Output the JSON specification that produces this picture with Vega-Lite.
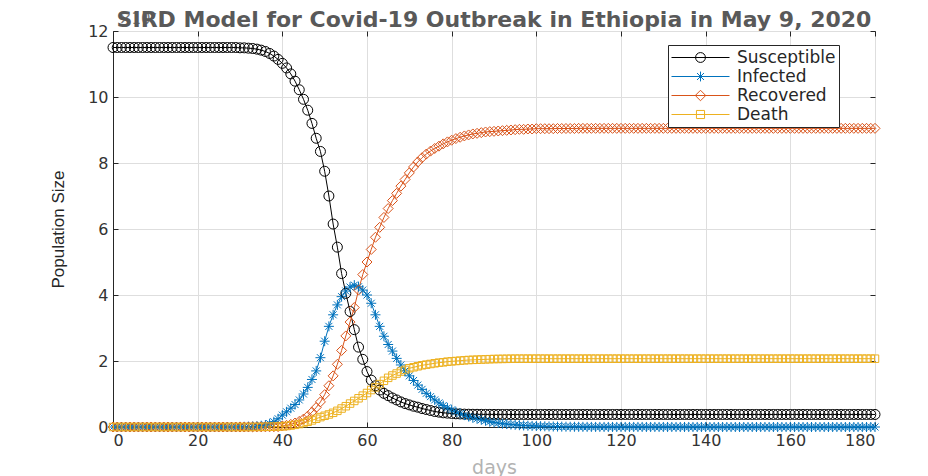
{
  "$schema": "https://vega.github.io/schema/vega-lite/v6.json",
  "autosize": "none",
  "width": 762,
  "height": 396,
  "padding": {"left": 113, "top": 31, "right": 53, "bottom": 49},
  "background": "white",
  "title": {"text": "SIRD Model for Covid-19 Outbreak in Ethiopia in May 9, 2020", "font": "DejaVu Sans", "fontSize": 22, "fontWeight": "bold", "color": "#595959", "anchor": "middle", "offset": 4, "dy": 24},
  "config": {
    "view": {"stroke": "#262626", "strokeWidth": 1},
    "axis": {"gridColor": "#dedede", "gridWidth": 1, "domainColor": "#262626", "tickColor": "#262626", "tickSize": -5, "labelFont": "DejaVu Sans", "labelFontSize": 16, "labelColor": "#333333", "titleFontWeight": "normal"}
  },
  "datasets": {
    "sird": [
      {"d":0,"S":11.5,"I":0,"R":0,"D":0},{"d":1,"S":11.5,"I":0,"R":0,"D":0},{"d":2,"S":11.5,"I":0,"R":0,"D":0},{"d":3,"S":11.5,"I":0,"R":0,"D":0},{"d":4,"S":11.5,"I":0,"R":0,"D":0},
      {"d":5,"S":11.5,"I":0,"R":0,"D":0},{"d":6,"S":11.5,"I":0,"R":0,"D":0},{"d":7,"S":11.5,"I":0,"R":0,"D":0},{"d":8,"S":11.5,"I":0,"R":0,"D":0},{"d":9,"S":11.5,"I":0,"R":0,"D":0},
      {"d":10,"S":11.5,"I":0,"R":0,"D":0},{"d":11,"S":11.5,"I":0,"R":0,"D":0},{"d":12,"S":11.5,"I":0,"R":0,"D":0},{"d":13,"S":11.5,"I":0,"R":0,"D":0},{"d":14,"S":11.5,"I":0,"R":0,"D":0},
      {"d":15,"S":11.5,"I":0,"R":0,"D":0},{"d":16,"S":11.5,"I":0,"R":0,"D":0},{"d":17,"S":11.5,"I":0,"R":0,"D":0},{"d":18,"S":11.5,"I":0,"R":0,"D":0},{"d":19,"S":11.5,"I":0,"R":0,"D":0},
      {"d":20,"S":11.5,"I":0,"R":0,"D":0},{"d":21,"S":11.5,"I":0,"R":0,"D":0},{"d":22,"S":11.5,"I":0,"R":0,"D":0},{"d":23,"S":11.5,"I":0,"R":0,"D":0},{"d":24,"S":11.5,"I":0,"R":0,"D":0},
      {"d":25,"S":11.5,"I":0,"R":0,"D":0},{"d":26,"S":11.5,"I":0,"R":0,"D":0},{"d":27,"S":11.5,"I":0,"R":0,"D":0},{"d":28,"S":11.5,"I":0,"R":0,"D":0},{"d":29,"S":11.5,"I":0,"R":0,"D":0},
      {"d":30,"S":11.49,"I":0.005,"R":0,"D":0},{"d":31,"S":11.49,"I":0.008,"R":0,"D":0},{"d":32,"S":11.48,"I":0.012,"R":0.002,"D":0},{"d":33,"S":11.47,"I":0.018,"R":0.003,"D":0.001},{"d":34,"S":11.45,"I":0.027,"R":0.004,"D":0.002},
      {"d":35,"S":11.42,"I":0.04,"R":0.005,"D":0.003},{"d":36,"S":11.38,"I":0.06,"R":0.006,"D":0.005},{"d":37,"S":11.32,"I":0.1,"R":0.007,"D":0.008},{"d":38,"S":11.24,"I":0.16,"R":0.008,"D":0.011},{"d":39,"S":11.14,"I":0.25,"R":0.01,"D":0.015},
      {"d":40,"S":11.02,"I":0.36,"R":0.03,"D":0.02},{"d":41,"S":10.88,"I":0.46,"R":0.05,"D":0.03},{"d":42,"S":10.7,"I":0.57,"R":0.08,"D":0.045},{"d":43,"S":10.48,"I":0.68,"R":0.12,"D":0.065},{"d":44,"S":10.22,"I":0.82,"R":0.17,"D":0.09},
      {"d":45,"S":9.93,"I":1.0,"R":0.24,"D":0.12},{"d":46,"S":9.6,"I":1.2,"R":0.33,"D":0.16},{"d":47,"S":9.2,"I":1.44,"R":0.45,"D":0.2},{"d":48,"S":8.75,"I":1.7,"R":0.59,"D":0.25},{"d":49,"S":8.35,"I":2.1,"R":0.76,"D":0.3},
      {"d":50,"S":7.75,"I":2.6,"R":0.98,"D":0.34},{"d":51,"S":7.0,"I":3.05,"R":1.25,"D":0.38},{"d":52,"S":6.15,"I":3.4,"R":1.55,"D":0.43},{"d":53,"S":5.45,"I":3.7,"R":1.9,"D":0.49},{"d":54,"S":4.65,"I":3.95,"R":2.32,"D":0.56},
      {"d":55,"S":4.05,"I":4.12,"R":2.76,"D":0.63},{"d":56,"S":3.5,"I":4.24,"R":3.18,"D":0.71},{"d":57,"S":2.95,"I":4.3,"R":3.62,"D":0.79},{"d":58,"S":2.42,"I":4.25,"R":4.15,"D":0.87},{"d":59,"S":2.05,"I":4.15,"R":4.62,"D":0.95},
      {"d":60,"S":1.68,"I":4.0,"R":5.0,"D":1.03},{"d":61,"S":1.42,"I":3.75,"R":5.38,"D":1.12},{"d":62,"S":1.25,"I":3.4,"R":5.75,"D":1.2},{"d":63,"S":1.12,"I":3.05,"R":6.05,"D":1.3},{"d":64,"S":1.02,"I":2.75,"R":6.35,"D":1.4},
      {"d":65,"S":0.95,"I":2.5,"R":6.62,"D":1.49},{"d":66,"S":0.88,"I":2.3,"R":6.86,"D":1.56},{"d":67,"S":0.82,"I":2.08,"R":7.08,"D":1.62},{"d":68,"S":0.76,"I":1.88,"R":7.3,"D":1.68},{"d":69,"S":0.71,"I":1.7,"R":7.5,"D":1.73},
      {"d":70,"S":0.67,"I":1.55,"R":7.7,"D":1.78},{"d":71,"S":0.63,"I":1.41,"R":7.88,"D":1.81},{"d":72,"S":0.6,"I":1.27,"R":8.03,"D":1.84},{"d":73,"S":0.56,"I":1.14,"R":8.16,"D":1.87},{"d":74,"S":0.53,"I":1.02,"R":8.27,"D":1.89},
      {"d":75,"S":0.5,"I":0.92,"R":8.36,"D":1.91},{"d":76,"S":0.47,"I":0.82,"R":8.44,"D":1.93},{"d":77,"S":0.45,"I":0.73,"R":8.51,"D":1.95},{"d":78,"S":0.43,"I":0.65,"R":8.58,"D":1.96},{"d":79,"S":0.42,"I":0.58,"R":8.64,"D":1.98},
      {"d":80,"S":0.41,"I":0.52,"R":8.69,"D":1.99},{"d":81,"S":0.4,"I":0.46,"R":8.74,"D":2.0},{"d":82,"S":0.395,"I":0.41,"R":8.78,"D":2.01},{"d":83,"S":0.39,"I":0.36,"R":8.82,"D":2.02},{"d":84,"S":0.387,"I":0.32,"R":8.85,"D":2.03},
      {"d":85,"S":0.385,"I":0.28,"R":8.88,"D":2.035},{"d":86,"S":0.384,"I":0.25,"R":8.9,"D":2.04},{"d":87,"S":0.383,"I":0.22,"R":8.92,"D":2.045},{"d":88,"S":0.382,"I":0.19,"R":8.94,"D":2.05},{"d":89,"S":0.382,"I":0.16,"R":8.95,"D":2.055},
      {"d":90,"S":0.381,"I":0.14,"R":8.96,"D":2.06},{"d":91,"S":0.381,"I":0.12,"R":8.97,"D":2.062},{"d":92,"S":0.38,"I":0.1,"R":8.98,"D":2.064},{"d":93,"S":0.38,"I":0.09,"R":8.99,"D":2.066},{"d":94,"S":0.38,"I":0.075,"R":9.0,"D":2.068},
      {"d":95,"S":0.38,"I":0.065,"R":9.01,"D":2.07},{"d":96,"S":0.38,"I":0.055,"R":9.02,"D":2.07},{"d":97,"S":0.38,"I":0.047,"R":9.02,"D":2.07},{"d":98,"S":0.38,"I":0.04,"R":9.03,"D":2.07},{"d":99,"S":0.38,"I":0.034,"R":9.03,"D":2.07},
      {"d":100,"S":0.38,"I":0.029,"R":9.04,"D":2.07},{"d":101,"S":0.38,"I":0.025,"R":9.04,"D":2.07},{"d":102,"S":0.38,"I":0.021,"R":9.04,"D":2.07},{"d":103,"S":0.38,"I":0.018,"R":9.04,"D":2.07},{"d":104,"S":0.38,"I":0.015,"R":9.04,"D":2.07},
      {"d":105,"S":0.38,"I":0.013,"R":9.045,"D":2.07},{"d":106,"S":0.38,"I":0.011,"R":9.045,"D":2.07},{"d":107,"S":0.38,"I":0.009,"R":9.045,"D":2.07},{"d":108,"S":0.38,"I":0.008,"R":9.045,"D":2.07},{"d":109,"S":0.38,"I":0.007,"R":9.045,"D":2.07},
      {"d":110,"S":0.38,"I":0.006,"R":9.05,"D":2.07},{"d":111,"S":0.38,"I":0.005,"R":9.05,"D":2.07},{"d":112,"S":0.38,"I":0.004,"R":9.05,"D":2.07},{"d":113,"S":0.38,"I":0.004,"R":9.05,"D":2.07},{"d":114,"S":0.38,"I":0.003,"R":9.05,"D":2.07},
      {"d":115,"S":0.38,"I":0.003,"R":9.05,"D":2.07},{"d":116,"S":0.38,"I":0.002,"R":9.05,"D":2.07},{"d":117,"S":0.38,"I":0.002,"R":9.05,"D":2.07},{"d":118,"S":0.38,"I":0.002,"R":9.05,"D":2.07},{"d":119,"S":0.38,"I":0.002,"R":9.05,"D":2.07},
      {"d":120,"S":0.38,"I":0.002,"R":9.05,"D":2.07},{"d":121,"S":0.38,"I":0.002,"R":9.05,"D":2.07},{"d":122,"S":0.38,"I":0.002,"R":9.05,"D":2.07},{"d":123,"S":0.38,"I":0.002,"R":9.05,"D":2.07},{"d":124,"S":0.38,"I":0.002,"R":9.05,"D":2.07},
      {"d":125,"S":0.38,"I":0.002,"R":9.05,"D":2.07},{"d":126,"S":0.38,"I":0.001,"R":9.05,"D":2.07},{"d":127,"S":0.38,"I":0.001,"R":9.05,"D":2.07},{"d":128,"S":0.38,"I":0.001,"R":9.05,"D":2.07},{"d":129,"S":0.38,"I":0.001,"R":9.05,"D":2.07},
      {"d":130,"S":0.38,"I":0.001,"R":9.05,"D":2.07},{"d":131,"S":0.38,"I":0.001,"R":9.05,"D":2.07},{"d":132,"S":0.38,"I":0.001,"R":9.05,"D":2.07},{"d":133,"S":0.38,"I":0.001,"R":9.05,"D":2.07},{"d":134,"S":0.38,"I":0.001,"R":9.05,"D":2.07},
      {"d":135,"S":0.38,"I":0.001,"R":9.05,"D":2.07},{"d":136,"S":0.38,"I":0.001,"R":9.05,"D":2.07},{"d":137,"S":0.38,"I":0.001,"R":9.05,"D":2.07},{"d":138,"S":0.38,"I":0.001,"R":9.05,"D":2.07},{"d":139,"S":0.38,"I":0.001,"R":9.05,"D":2.07},
      {"d":140,"S":0.38,"I":0.001,"R":9.05,"D":2.07},{"d":141,"S":0.38,"I":0,"R":9.05,"D":2.07},{"d":142,"S":0.38,"I":0,"R":9.05,"D":2.07},{"d":143,"S":0.38,"I":0,"R":9.05,"D":2.07},{"d":144,"S":0.38,"I":0,"R":9.05,"D":2.07},
      {"d":145,"S":0.38,"I":0,"R":9.05,"D":2.07},{"d":146,"S":0.38,"I":0,"R":9.05,"D":2.07},{"d":147,"S":0.38,"I":0,"R":9.05,"D":2.07},{"d":148,"S":0.38,"I":0,"R":9.05,"D":2.07},{"d":149,"S":0.38,"I":0,"R":9.05,"D":2.07},
      {"d":150,"S":0.38,"I":0,"R":9.05,"D":2.07},{"d":151,"S":0.38,"I":0,"R":9.05,"D":2.07},{"d":152,"S":0.38,"I":0,"R":9.05,"D":2.07},{"d":153,"S":0.38,"I":0,"R":9.05,"D":2.07},{"d":154,"S":0.38,"I":0,"R":9.05,"D":2.07},
      {"d":155,"S":0.38,"I":0,"R":9.05,"D":2.07},{"d":156,"S":0.38,"I":0,"R":9.05,"D":2.07},{"d":157,"S":0.38,"I":0,"R":9.05,"D":2.07},{"d":158,"S":0.38,"I":0,"R":9.05,"D":2.07},{"d":159,"S":0.38,"I":0,"R":9.05,"D":2.07},
      {"d":160,"S":0.38,"I":0,"R":9.05,"D":2.07},{"d":161,"S":0.38,"I":0,"R":9.05,"D":2.07},{"d":162,"S":0.38,"I":0,"R":9.05,"D":2.07},{"d":163,"S":0.38,"I":0,"R":9.05,"D":2.07},{"d":164,"S":0.38,"I":0,"R":9.05,"D":2.07},
      {"d":165,"S":0.38,"I":0,"R":9.05,"D":2.07},{"d":166,"S":0.38,"I":0,"R":9.05,"D":2.07},{"d":167,"S":0.38,"I":0,"R":9.05,"D":2.07},{"d":168,"S":0.38,"I":0,"R":9.05,"D":2.07},{"d":169,"S":0.38,"I":0,"R":9.05,"D":2.07},
      {"d":170,"S":0.38,"I":0,"R":9.05,"D":2.07},{"d":171,"S":0.38,"I":0,"R":9.05,"D":2.07},{"d":172,"S":0.38,"I":0,"R":9.05,"D":2.07},{"d":173,"S":0.38,"I":0,"R":9.05,"D":2.07},{"d":174,"S":0.38,"I":0,"R":9.05,"D":2.07},
      {"d":175,"S":0.38,"I":0,"R":9.05,"D":2.07},{"d":176,"S":0.38,"I":0,"R":9.05,"D":2.07},{"d":177,"S":0.38,"I":0,"R":9.05,"D":2.07},{"d":178,"S":0.38,"I":0,"R":9.05,"D":2.07},{"d":179,"S":0.38,"I":0,"R":9.05,"D":2.07},
      {"d":180,"S":0.38,"I":0,"R":9.05,"D":2.07}
    ]
  },
  "data": {"name": "sird"},
  "transform": [{"fold": ["S", "I", "R", "D"], "as": ["series", "value"]}],
  "resolve": {
    "scale": {"color": "independent", "shape": "independent"},
    "axis": {"x": "independent", "y": "independent"},
    "legend": {"color": "independent", "shape": "independent"}
  },
  "layer": [
    {
      "mark": {"type": "line", "strokeWidth": 1, "clip": false},
      "encoding": {
        "x": {"field": "d", "type": "quantitative", "scale": {"domain": [0, 180], "nice": false, "zero": false},
              "axis": {"orient": "bottom", "values": [0,20,40,60,80,100,120,140,160,180], "grid": true, "title": "days", "titleFont": "DejaVu Sans", "titleFontSize": 19, "titleColor": "#b3b3b3", "titlePadding": 10, "labelPadding": 10}},
        "y": {"field": "value", "type": "quantitative", "scale": {"domain": [0, 12], "nice": false},
              "axis": {"orient": "left", "values": [0,2,4,6,8,10,12], "grid": true, "title": "Population Size", "titleFont": "Liberation Sans", "titleFontSize": 17, "titleColor": "#262626", "titlePadding": 20, "labelPadding": 10}},
        "color": {"field": "series", "type": "nominal", "scale": {"domain": ["S","I","R","D"], "range": ["#000000","#0072BD","#D95319","#EDB120"]}, "legend": null}
      }
    },
    {
      "mark": {"type": "point", "filled": false, "size": 100, "strokeWidth": 1, "opacity": 1, "clip": false},
      "encoding": {
        "x": {"field": "d", "type": "quantitative", "axis": null},
        "y": {"field": "value", "type": "quantitative", "axis": null},
        "color": {"field": "series", "type": "nominal", "scale": {"domain": ["S","I","R","D"], "range": ["#000000","#0072BD","#D95319","#EDB120"]}, "legend": null},
        "shape": {"field": "series", "type": "nominal", "scale": {"domain": ["S","I","R","D"], "range": [
          "M1,0A1,1,0,1,1,-1,0A1,1,0,1,1,1,0Z",
          "M-1,0H1M0,-1V1M-0.7,-0.7L0.7,0.7M-0.7,0.7L0.7,-0.7",
          "M0,-1L1,0L0,1L-1,0Z",
          "M-0.75,-0.75H0.75V0.75H-0.75Z"]}, "legend": null}
      }
    },
    {
      "transform": [{"filter": "datum.d == 0"}],
      "mark": {"type": "point", "filled": false, "size": 3364, "strokeWidth": 1, "opacity": 0, "clip": true},
      "encoding": {
        "x": {"field": "d", "type": "quantitative", "axis": {"orient": "top", "values": [0,20,40,60,80,100,120,140,160,180], "labels": false, "title": null, "grid": false, "domain": false}},
        "y": {"field": "value", "type": "quantitative", "axis": {"orient": "right", "values": [0,2,4,6,8,10,12], "labels": false, "title": null, "grid": false, "domain": false}},
        "color": {"field": "series", "type": "nominal", "scale": {"domain": ["S","I","R","D"], "range": ["#000000","#0072BD","#D95319","#EDB120"]},
                  "legend": {"orient": "none", "legendX": 555, "legendY": 14, "title": null, "padding": 3, "clipHeight": 19, "rowPadding": 0, "symbolSize": 3364, "symbolStrokeWidth": 1, "symbolOffset": 0, "labelOffset": 7, "labelFont": "DejaVu Sans", "labelFontSize": 17, "labelColor": "#262626", "strokeColor": "#262626", "fillColor": "white",
                             "labelExpr": "{'S':'Susceptible','I':'Infected','R':'Recovered','D':'Death'}[datum.label]"}},
        "shape": {"field": "series", "type": "nominal", "scale": {"domain": ["S","I","R","D"], "range": [
          "M-1,0H1M0.17,0A0.17,0.17,0,1,1,-0.17,0A0.17,0.17,0,1,1,0.17,0",
          "M-1,0H1M0,-0.17V0.17M-0.12,-0.12L0.12,0.12M-0.12,0.12L0.12,-0.12",
          "M-1,0H1M0,-0.18L0.18,0L0,0.18L-0.18,0Z",
          "M-1,0H1M-0.14,-0.14H0.14V0.14H-0.14Z"]},
                  "legend": {"orient": "none", "legendX": 555, "legendY": 14, "title": null, "padding": 3, "clipHeight": 19, "rowPadding": 0, "symbolSize": 3364, "symbolStrokeWidth": 1, "symbolOffset": 0, "labelOffset": 7, "labelFont": "DejaVu Sans", "labelFontSize": 17, "labelColor": "#262626", "strokeColor": "#262626", "fillColor": "white",
                             "labelExpr": "{'S':'Susceptible','I':'Infected','R':'Recovered','D':'Death'}[datum.label]"}}
      }
    },
    {
      "data": {"values": [{"note": "x10^7"}]},
      "mark": {"type": "text", "align": "left", "baseline": "bottom", "dx": 6, "dy": -4, "font": "DejaVu Sans", "fontSize": 15, "color": "#777777", "text": "×10⁷"},
      "encoding": {
        "x": {"datum": 0, "type": "quantitative", "axis": null},
        "y": {"datum": 12, "type": "quantitative", "axis": null}
      }
    }
  ]
}
